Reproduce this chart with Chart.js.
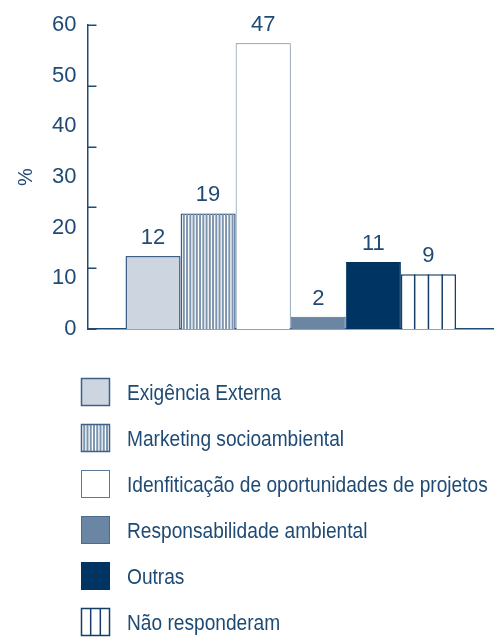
<!DOCTYPE html>
<html>
<head>
<meta charset="utf-8">
<script src="https://cdn.jsdelivr.net/npm/chart.js@4.4.0/dist/chart.umd.min.js"></script>
<style>
    html, body { margin: 0; padding: 0; background: #fff; }
    #wrap { width: 494px; height: 638px; }
</style>
</head>
<body>
<div id="wrap"><canvas id="chart" width="494" height="638"></canvas></div>
<script>
const categories = [
    'Exigência Externa',
    'Marketing socioambiental',
    'Idenfiticação de oportunidades de projetos',
    'Responsabilidade ambiental',
    'Outras',
    'Não responderam'
]
const values = [12, 19, 47, 2, 11, 9]
// tick marks sit on the value scale, the printed labels run 0..60
const valueTicks = [0, 10, 20, 30, 40, 50]
const percentLabels = ['0', '10', '20', '30', '40', '50', '60']

const INK = '#1f4a74'
const FONT = "'Liberation Sans', Arial, sans-serif"
const NARROW = 0.87 // horizontal squeeze for the legend text

const barStyles = [
    { fill: '#cdd6e0', border: '#3d6086', borderWidth: 1.5 },
    { fill: '#ffffff', border: '#3d6086', borderWidth: 1.5, stripes: { pitch: 3.25, width: 2, color: '#7d95ae' } },
    { fill: '#ffffff', border: '#5b7898', borderWidth: 1 },
    { fill: '#6a86a3', border: '#4d6b8c', borderWidth: 1 },
    { fill: '#003463', border: '#003463', borderWidth: 1 },
    { fill: '#ffffff', border: '#143e68', borderWidth: 1.5, stripes: { parts: 4, width: 1.5, color: '#143e68' } }
]

// vertical hatching inside a rectangle
function drawStripes(ctx, left, top, width, height, stripes) {
    ctx.save()
    ctx.beginPath()
    ctx.rect(left, top, width, height)
    ctx.clip()
    ctx.strokeStyle = stripes.color
    ctx.lineWidth = stripes.width
    const pitch = stripes.parts ? width / stripes.parts : stripes.pitch
    ctx.beginPath()
    for (let x = left + pitch; x < left + width - 0.5; x += pitch) {
        ctx.moveTo(x, top)
        ctx.lineTo(x, top + height)
    }
    ctx.stroke()
    ctx.restore()
}

const hatchPlugin = {
    id: 'hatch',
    afterDatasetDraw(chart, args) {
        const style = barStyles[args.index]
        if (!style.stripes) return
        args.meta.data.forEach(bar => {
            const left = bar.x - bar.width / 2
            drawStripes(chart.ctx, left, bar.y, bar.width, bar.base - bar.y, style.stripes)
        })
    }
}

const valueLabelPlugin = {
    id: 'valueLabels',
    afterDatasetsDraw(chart) {
        const ctx = chart.ctx
        ctx.save()
        ctx.fillStyle = INK
        ctx.font = `22px ${FONT}`
        ctx.textAlign = 'center'
        ctx.textBaseline = 'alphabetic'
        chart.data.datasets.forEach((dataset, i) => {
            chart.getDatasetMeta(i).data.forEach((bar, j) => {
                ctx.fillText(String(dataset.data[j]), bar.x, bar.y - 12)
            })
        })
        ctx.restore()
    }
}

// short inward tick marks on the value axis
const innerTicksPlugin = {
    id: 'innerTicks',
    afterDraw(chart) {
        const ctx = chart.ctx
        const scale = chart.scales.y
        ctx.save()
        ctx.strokeStyle = INK
        ctx.lineWidth = 1.5
        ctx.beginPath()
        valueTicks.forEach(v => {
            const y = Math.round(scale.getPixelForValue(v)) + 0.25
            ctx.moveTo(scale.right, y)
            ctx.lineTo(scale.right + 9, y)
        })
        ctx.stroke()
        ctx.restore()
    }
}

const legendPlugin = {
    id: 'stackedLegend',
    afterDraw(chart) {
        const ctx = chart.ctx
        const top = 378, rowGap = 46, boxX = 81, boxW = 29, boxH = 28, textX = 127
        ctx.save()
        ctx.font = `22px ${FONT}`
        ctx.textBaseline = 'alphabetic'
        ctx.textAlign = 'left'
        categories.forEach((name, i) => {
            const style = barStyles[i]
            const y = top + i * rowGap
            ctx.fillStyle = style.fill
            ctx.fillRect(boxX, y, boxW, boxH)
            if (style.stripes) {
                const s = style.stripes.parts ? { ...style.stripes, parts: 3 } : style.stripes
                drawStripes(ctx, boxX, y, boxW, boxH, s)
            }
            ctx.strokeStyle = style.border
            ctx.lineWidth = style.borderWidth
            ctx.strokeRect(boxX + 0.5, y + 0.5, boxW - 1, boxH - 1)

            ctx.save()
            ctx.translate(textX, y + boxH / 2 + 8)
            ctx.scale(NARROW, 1)
            ctx.fillStyle = INK
            ctx.fillText(name, 0, 0)
            ctx.restore()
        })
        ctx.restore()
    }
}

const datasets = categories.map((name, i) => ({
    label: name,
    data: [values[i]],
    backgroundColor: barStyles[i].fill,
    borderColor: barStyles[i].border,
    borderWidth: barStyles[i].borderWidth,
    categoryPercentage: 0.813,
    barPercentage: 1
}))

new Chart(document.getElementById('chart'), {
    type: 'bar',
    data: { labels: [''], datasets },
    plugins: [hatchPlugin, valueLabelPlugin, innerTicksPlugin, legendPlugin],
    options: {
        responsive: false,
        animation: false,
        layout: { padding: { top: 25, right: 0, bottom: 309, left: 0 } },
        plugins: {
            legend: { display: false },
            tooltip: { enabled: false }
        },
        scales: {
            x: {
                grid: { display: false, drawTicks: false },
                ticks: { display: false },
                border: { display: true, color: INK, width: 1.5 }
            },
            y: {
                min: valueTicks[0],
                max: valueTicks[valueTicks.length - 1],
                weight: 0,
                grid: { display: false, drawTicks: false },
                ticks: { display: false, stepSize: 10 },
                border: { display: true, color: INK, width: 1.5 }
            },
            yLabels: {
                type: 'linear',
                position: 'left',
                weight: 1,
                min: 0,
                max: (percentLabels.length - 1) * 10,
                grid: { display: false, drawTicks: false },
                border: { display: false },
                ticks: {
                    stepSize: 10,
                    padding: 11,
                    color: INK,
                    font: { family: FONT, size: 22 },
                    callback: (value, index) => percentLabels[index]
                },
                title: {
                    display: true,
                    text: '%',
                    color: INK,
                    font: { family: FONT, size: 20 },
                    padding: { top: 14, bottom: 3 }
                }
            }
        }
    }
})
</script>
</body>
</html>
